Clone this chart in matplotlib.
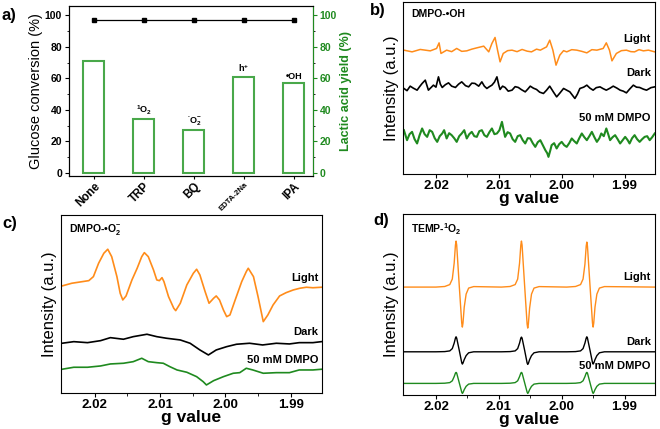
import matplotlib
matplotlib.use("Agg")
import matplotlib.pyplot as plt

plt.rcParams['font.family'] = ['Liberation Sans', 'DejaVu Sans']
plt.rcParams['font.weight'] = 'bold'
plt.rcParams['mathtext.fontset'] = 'custom'
plt.rcParams['mathtext.rm'] = 'Liberation Sans:bold'
plt.rcParams['mathtext.bf'] = 'Liberation Sans:bold'

ORANGE = "#ff8c1a"
GREEN = "#1f8a1f"
BARGREEN = "#49a84a"

# ---- panel a data
scavengers = ["None", "TRP", "BQ", "EDTA-2Na", "IPA"]
conversion = [71, 34, 27, 61, 57]
lactic_yield = [97, 97, 97, 97, 97]
species = ["", r"$^{1}$O$_2$", r"$^{\bullet}$O$_2^{-}$", r"h$^{+}$", "•OH"]

# ---- panel b data (DMPO-OH)
b_light_g = [2.0251, 2.0238, 2.0225, 2.0209, 2.0199, 2.0195, 2.0192, 2.0183, 2.0175, 2.0167,
             2.0159, 2.0151, 2.0143, 2.0135, 2.0124, 2.0116, 2.0111, 2.0106, 2.0102, 2.0098,
             2.0093, 2.0086, 2.0079, 2.0071, 2.0063, 2.0055, 2.0048, 2.0040, 2.0034, 2.0024,
             2.0019, 2.0014, 2.0009, 2.0003, 1.9997, 1.9992, 1.9984, 1.9976, 1.9968, 1.9960,
             1.9952, 1.9944, 1.9934, 1.9929, 1.9924, 1.9920, 1.9913, 1.9905, 1.9897, 1.9890,
             1.9884, 1.9877, 1.9870, 1.9862, 1.9852]
b_light_y = [124, 122.3, 124.7, 123.3, 125.7, 131.3, 120.7, 124, 122.5, 125.7,
             122.8, 123.3, 125, 126.3, 128, 122.3, 130.7, 136.7, 124, 112.3,
             120.7, 123.5, 124, 122.5, 124.7, 123, 122.3, 125, 124, 127.3,
             134, 124, 109, 119, 123.5, 122.3, 124.5, 124, 122.8, 121.3,
             124.5, 124, 125.7, 131.3, 124, 113.3, 120.7, 123.5, 124, 122.5,
             122.3, 124.5, 123.3, 124, 122.3]
b_dark_g = [2.0251, 2.0246, 2.0241, 2.0236, 2.0230, 2.0226, 2.0222, 2.0217, 2.0214, 2.0212,
            2.0208, 2.0204, 2.0200, 2.0196, 2.0193, 2.0190, 2.0185, 2.0180, 2.0175, 2.0169,
            2.0164, 2.0159, 2.0153, 2.0148, 2.0143, 2.0138, 2.0132, 2.0127, 2.0123, 2.0119,
            2.0115, 2.0111, 2.0107, 2.0103, 2.0100, 2.0098, 2.0094, 2.0090, 2.0085, 2.0079,
            2.0074, 2.0069, 2.0064, 2.0058, 2.0054, 2.0050, 2.0045, 2.0040, 2.0035, 2.0029,
            2.0024, 2.0019, 2.0013, 2.0008, 2.0003, 1.9997, 1.9992, 1.9987, 1.9983, 1.9979,
            1.9975, 1.9971, 1.9965, 1.9960, 1.9955, 1.9950, 1.9945, 1.9939, 1.9934, 1.9929,
            1.9923, 1.9918, 1.9912, 1.9907, 1.9902, 1.9897, 1.9892, 1.9886, 1.9881, 1.9876,
            1.9870, 1.9865, 1.9858, 1.9852]
b_dark_y = [85.7, 83.5, 88, 86, 84, 87.5, 90.7, 94, 88, 84,
            86.5, 89, 87, 97.3, 90, 86.7, 89.5, 91.3, 88, 86.7,
            90, 92.3, 88.5, 87.3, 91, 90.7, 88, 92.3, 88, 85.7,
            87.5, 89, 92, 97.3, 89, 84.7, 88, 86.7, 83, 84,
            87.5, 86.7, 84.5, 82.3, 85, 88, 86, 84.7, 82, 80.7,
            84, 88, 82, 77.3, 81, 85.7, 84, 82.3, 79, 75.7,
            80, 85.7, 87, 89, 86, 84, 86.5, 87.3, 85.5, 84,
            86, 88, 86, 84, 83, 81.3, 85, 89, 87, 86.7,
            85, 84, 86.5, 87.3]
b_dmpo_g = [2.0251, 2.0248, 2.0246, 2.0242, 2.0238, 2.0234, 2.0230, 2.0226, 2.0222, 2.0218,
            2.0214, 2.0210, 2.0206, 2.0202, 2.0198, 2.0194, 2.0190, 2.0187, 2.0183, 2.0179,
            2.0175, 2.0171, 2.0167, 2.0163, 2.0159, 2.0155, 2.0151, 2.0147, 2.0143, 2.0139,
            2.0135, 2.0131, 2.0127, 2.0123, 2.0119, 2.0115, 2.0111, 2.0107, 2.0103, 2.0099,
            2.0095, 2.0092, 2.0090, 2.0086, 2.0082, 2.0078, 2.0074, 2.0070, 2.0066, 2.0062,
            2.0058, 2.0054, 2.0050, 2.0046, 2.0042, 2.0038, 2.0034, 2.0030, 2.0026, 2.0023,
            2.0021, 2.0018, 2.0016, 2.0012, 2.0008, 2.0004, 2.0000, 1.9996, 1.9992, 1.9988,
            1.9984, 1.9980, 1.9976, 1.9972, 1.9968, 1.9964, 1.9960, 1.9956, 1.9952, 1.9948,
            1.9944, 1.9940, 1.9937, 1.9933, 1.9929, 1.9926, 1.9923, 1.9919, 1.9915, 1.9911,
            1.9907, 1.9903, 1.9899, 1.9895, 1.9892, 1.9888, 1.9884, 1.9880, 1.9876, 1.9872,
            1.9868, 1.9864, 1.9860, 1.9856, 1.9852]
b_dmpo_y = [44, 38, 34, 40, 42.3, 35, 30.7, 39, 45.7, 40,
            37.3, 44, 42.3, 36, 32.3, 38, 40.7, 44, 35.7, 41,
            39, 36, 32.3, 38, 40.7, 44, 35.7, 40, 42.3, 38,
            37.3, 43, 44, 39, 37.3, 42, 45.7, 40, 40.7, 44,
            52.3, 43, 37.3, 42, 40.7, 35, 32.3, 38, 39, 34,
            30.7, 36, 35.7, 31, 27.3, 32, 34, 29, 24, 21,
            17.3, 24, 29, 31, 25.7, 30, 32.3, 29, 27.3, 31,
            35.7, 33, 30.7, 36, 40.7, 37, 34, 38, 42.3, 37,
            32.3, 36, 40.7, 38, 45.7, 40, 34, 37, 39, 35,
            30.7, 34, 37.3, 34, 30.7, 36, 39, 35, 32.3, 35,
            37.3, 38, 34, 37, 40.7]

# ---- panel c data (DMPO-O2-)
c_light_g = [2.0250, 2.0235, 2.0219, 2.0209, 2.0202, 2.0194, 2.0186, 2.0180, 2.0174, 2.0166,
             2.0161, 2.0157, 2.0152, 2.0143, 2.0135, 2.0128, 2.0124, 2.0118, 2.0110, 2.0105,
             2.0101, 2.0097, 2.0094, 2.0087, 2.0079, 2.0076, 2.0069, 2.0059, 2.0049, 2.0044,
             2.0039, 2.0031, 2.0025, 2.0018, 2.0014, 2.0009, 2.0003, 1.9998, 1.9993, 1.9985,
             1.9975, 1.9968, 1.9965, 1.9957, 1.9950, 1.9942, 1.9935, 1.9927, 1.9917, 1.9907,
             1.9896, 1.9886, 1.9876, 1.9866, 1.9853]
c_light_y = [107, 109.7, 111.3, 112.3, 116.3, 129.7, 139.7, 143.7, 136.3, 116.3,
             99.7, 93, 97, 113, 124.7, 136.3, 140.3, 136.3, 123, 113,
             112.3, 115.3, 111.3, 96.3, 84.7, 82.3, 89.7, 108, 119.7, 123.7,
             118, 101.3, 89.7, 94.7, 97, 93, 83, 76.3, 78, 93,
             111.3, 121.3, 124.7, 116.3, 96.3, 71.3, 78, 88, 97, 100.3,
             103, 104.7, 105.7, 105.2, 105.7]
c_dark_g = [2.0250, 2.0232, 2.0211, 2.0191, 2.0176, 2.0156, 2.0141, 2.0120, 2.0105, 2.0090,
            2.0069, 2.0054, 2.0039, 2.0026, 2.0014, 1.9998, 1.9983, 1.9963, 1.9943, 1.9922,
            1.9902, 1.9887, 1.9866, 1.9853]
c_dark_y = [49.7, 51.3, 50.3, 52.3, 55.3, 53.7, 56.3, 58.7, 56.3, 54.7,
            53, 49.7, 43, 38, 43, 46.3, 48.7, 49.7, 48, 49.7,
            49, 50.3, 50.3, 51.3]
c_dmpo_g = [2.0250, 2.0232, 2.0211, 2.0191, 2.0176, 2.0156, 2.0141, 2.0128, 2.0118, 2.0105,
            2.0095, 2.0085, 2.0074, 2.0059, 2.0044, 2.0034, 2.0029, 2.0018, 2.0003, 1.9988,
            1.9978, 1.9968, 1.9958, 1.9942, 1.9922, 1.9902, 1.9887, 1.9866, 1.9853]
c_dmpo_y = [23.7, 25.7, 25.7, 27, 29, 29.7, 31.3, 34.7, 31.3, 30.3,
            29.7, 26.3, 23, 20.7, 16.3, 11.3, 8, 12.3, 16.3, 19.7,
            20.3, 24.7, 23, 19.7, 20.3, 20.3, 23, 23, 23.7]

# ---- panel d data (TEMP-1O2), three hyperfine lines
d_g = [2.0252, 2.0200, 2.0186, 2.0178, 2.0174, 2.0171, 2.0169, 2.0168, 2.0167, 2.0163,
       2.0159, 2.0158, 2.0157, 2.0155, 2.0152, 2.0148, 2.0140,
       2.0096, 2.0082, 2.0074, 2.0070, 2.0067, 2.0065, 2.0064, 2.0063, 2.0059,
       2.0055, 2.0054, 2.0053, 2.0051, 2.0048, 2.0044, 2.0036,
       1.9992, 1.9978, 1.9970, 1.9966, 1.9963, 1.9961, 1.9960, 1.9959, 1.9955,
       1.9951, 1.9950, 1.9949, 1.9947, 1.9944, 1.9940, 1.9932, 1.9852]
d_light_y = [108, 108, 108.6, 110.5, 116, 132, 150, 154, 150, 110,
             72, 68, 72, 88, 101, 107, 108.5,
             108, 108.6, 110.5, 116, 132, 150, 154, 150, 110,
             71, 67, 71, 87, 101, 107, 108.5,
             108, 108.6, 110.5, 116, 131, 149, 153, 149, 110,
             72, 68, 72, 88, 101, 107, 108.5, 108]
d_dark_y = [43.3, 43.3, 43.5, 44.2, 46.5, 52, 57, 58.3, 57, 45,
            32.5, 31, 32, 35.5, 39.5, 42.3, 43.3,
            43.3, 43.5, 44.2, 46.5, 52, 57, 58, 57, 45,
            32.2, 30.7, 31.7, 35.5, 39.5, 42.3, 43.3,
            43.3, 43.5, 44.2, 46.5, 52, 57, 58.3, 57, 45,
            32.5, 31, 32, 35.5, 39.5, 42.3, 43.3, 43.3]
d_dmpo_y = [11.7, 11.7, 11.9, 12.5, 14.3, 18.5, 22, 22.7, 22, 12.5,
            3, 1.7, 2.5, 5.5, 8.8, 11, 11.7,
            11.7, 11.9, 12.5, 14.3, 18.5, 22, 22.7, 22, 12.5,
            3, 1.7, 2.5, 5.5, 8.8, 11, 11.7,
            11.7, 11.9, 12.5, 14.3, 18.5, 22, 22.7, 22, 12.5,
            3, 1.7, 2.5, 5.5, 8.8, 11, 11.7, 11.7]

fig = plt.figure(figsize=(6.6, 4.29), dpi=100)

# ---------------- a)
ax = fig.add_axes([0.1045, 0.590, 0.3695, 0.396])
x = list(range(len(scavengers)))
ax.bar(x, conversion, width=0.42, facecolor="white", edgecolor=BARGREEN, linewidth=1.5)
ax.set_xlim(-0.5, 4.38)
ax.set_ylim(-2, 106)
ax.set_yticks([0, 20, 40, 60, 80, 100])
ax.set_yticks(range(10, 101, 20), minor=True)
ax.set_xticks(x)
ax.set_xticklabels(scavengers, rotation=45, ha="right", rotation_mode="anchor", fontsize=8.3)
for lab in ax.get_xticklabels():
    if lab.get_text() == "EDTA-2Na":
        lab.set_fontsize(5.6)
ax.tick_params(axis="y", labelsize=7.5, length=3, pad=2)
ax.tick_params(axis="y", which="minor", length=1.5)
ax.tick_params(axis="x", length=2.5, pad=1)
ax.set_ylabel("Glucose conversion (%)", fontsize=10.5, fontweight="normal", labelpad=1)
for xi, v, s in zip(x, conversion, species):
    if s:
        ax.text(xi, v + 1.5, s, ha="center", va="bottom", fontsize=6.5)
ax2 = ax.twinx()
ax2.plot(x, lactic_yield, color="black", marker="s", markersize=3, linewidth=0.9)
ax2.set_ylim(-2, 106)
ax2.set_yticks([0, 20, 40, 60, 80, 100])
ax2.set_yticks(range(10, 101, 20), minor=True)
ax2.tick_params(axis="y", colors=GREEN, labelsize=7.5, length=3, pad=2)
ax2.tick_params(axis="y", which="minor", length=1.5)
ax2.spines["right"].set_color(GREEN)
ax2.set_ylabel("Lactic acid yield (%)", color=GREEN, fontsize=9, fontweight="bold", labelpad=2)


def epr_axes(rect, title, tlabels):
    a = fig.add_axes(rect)
    a.set_xlim(2.0252, 1.9852)
    a.set_xticks([2.02, 2.01, 2.00, 1.99])
    a.set_xticklabels(["2.02", "2.01", "2.00", "1.99"])
    a.set_xticks([2.015, 2.005, 1.995], minor=True)
    a.set_yticks([])
    a.tick_params(axis="x", labelsize=9.5, length=3, pad=1.5)
    a.tick_params(axis="x", which="minor", length=2)
    a.set_xlabel("g value", fontsize=12.5, fontweight="bold", labelpad=-1)
    a.set_ylabel("Intensity (a.u.)", fontsize=12, fontweight="normal", labelpad=3)
    a.text(0.03, 0.96, title, transform=a.transAxes, ha="left", va="top", fontsize=7.5)
    for yv, lab in tlabels:
        a.text(0.985, yv, lab, transform=a.get_yaxis_transform(), ha="right", va="center", fontsize=8)
    return a


# ---------------- b)
axb = epr_axes([0.611, 0.594, 0.381, 0.401], "DMPO-•OH",
               [(135, "Light"), (101, "Dark"), (56, "50 mM DMPO")])
axb.plot(b_light_g, b_light_y, color=ORANGE, lw=1.1)
axb.plot(b_dark_g, b_dark_y, color="black", lw=1.2)
axb.plot(b_dmpo_g, b_dmpo_y, color=GREEN, lw=1.5)
axb.set_ylim(0, 172)

# ---------------- c)
axc = epr_axes([0.092, 0.084, 0.396, 0.415], r"DMPO-•O$_2^{-}$",
               [(115.3, "Light"), (60.7, "Dark"), (33, "50 mM DMPO")])
axc.plot(c_light_g, c_light_y, color=ORANGE, lw=1.2)
axc.plot(c_dark_g, c_dark_y, color="black", lw=1.2)
axc.plot(c_dmpo_g, c_dmpo_y, color=GREEN, lw=1.2)
axc.set_ylim(0, 178)

# ---------------- d)
axd = epr_axes([0.611, 0.079, 0.381, 0.422], r"TEMP-$^{1}$O$_2$",
               [(118.3, "Light"), (53.3, "Dark"), (29.3, "50 mM DMPO")])
axd.plot(d_g, d_light_y, color=ORANGE, lw=1.0)
axd.plot(d_g, d_dark_y, color="black", lw=1.0)
axd.plot(d_g, d_dmpo_y, color=GREEN, lw=1.0)
axd.set_ylim(0, 181)

fig.text(0.003, 0.953, "a)", fontsize=12)
fig.text(0.56, 0.965, "b)", fontsize=12)
fig.text(0.003, 0.468, "c)", fontsize=12)
fig.text(0.566, 0.475, "d)", fontsize=12)

fig.savefig("out.png", dpi=100)
